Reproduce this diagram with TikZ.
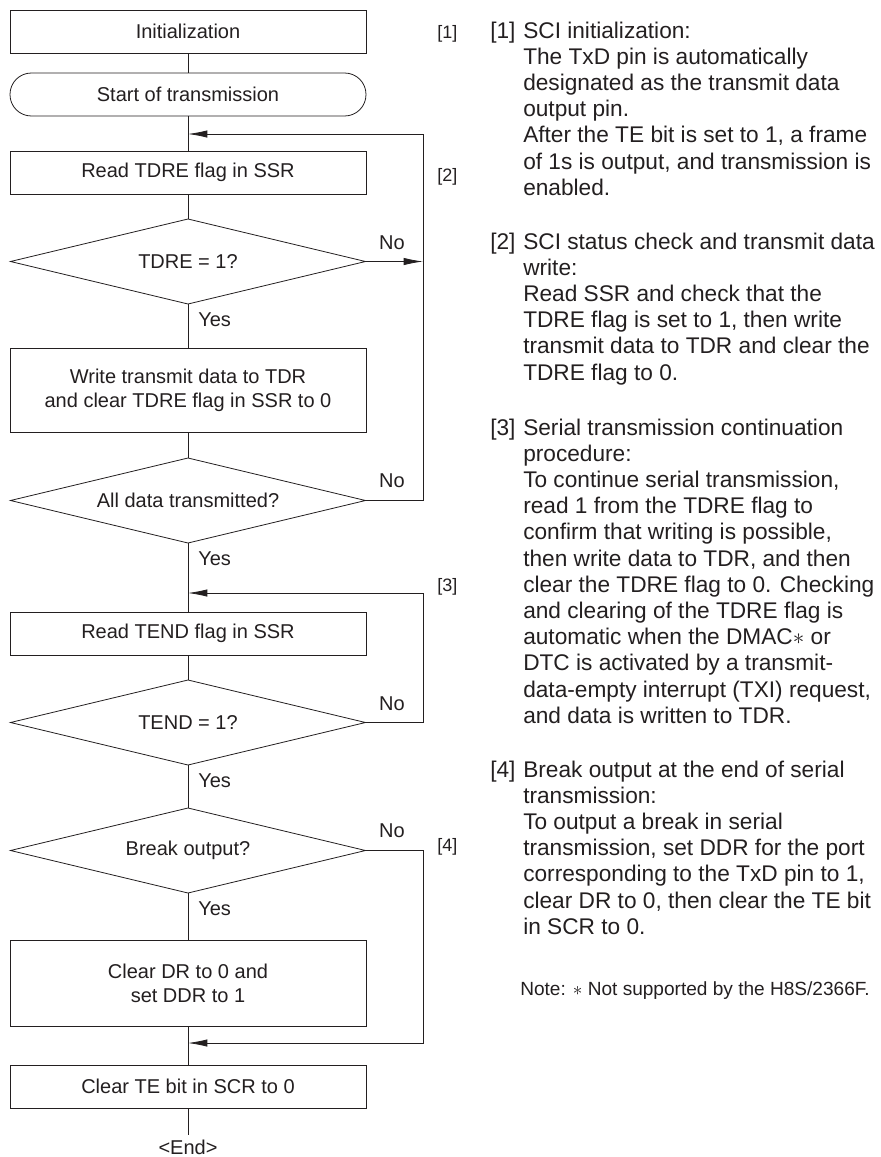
\documentclass[tikz,border=0pt]{standalone}
\usepackage{fontspec}
\setmainfont{Liberation Sans}
\usetikzlibrary{arrows.meta,positioning,shapes.geometric}
\definecolor{Ink}{RGB}{35,31,32}
\newcommand{\flowfont}{\fontsize{15pt}{18pt}\selectfont}
\newcommand{\descfont}{\fontsize{17pt}{19.65pt}\selectfont}
\newcommand{\tagfont}{\fontsize{13.5pt}{16pt}\selectfont}
\newcommand{\notefont}{\fontsize{14.3pt}{17pt}\selectfont}
\newcommand{\descitem}[2]{\makebox[24.75pt][l]{#1}\begin{tabular}[t]{@{}l@{}}#2\end{tabular}}
\tikzset{
  procbox/.style={draw=Ink,line width=0.6pt,fill=white,minimum width=267pt,minimum height=32.25pt,inner sep=2pt,outer sep=0pt,align=center,font=\flowfont,text=Ink},
  termbox/.style={procbox,rounded corners=16pt},
  testbox/.style={procbox,diamond,aspect=4.2,minimum width=266.25pt,minimum height=63.75pt,inner sep=0pt},
  flow/.style={draw=Ink,line width=0.6pt},
  back/.style={flow,-{Latex[length=14.5pt,width=5.5pt]}},
  yesno/.style={font=\flowfont,text=Ink,inner sep=0pt},
  tag/.style={font=\tagfont,text=Ink,inner sep=0pt,anchor=base west},
  desc/.style={font=\descfont,text=Ink,inner sep=0pt,anchor=base west}
}

\begin{document}
\begin{tikzpicture}[x=0.75pt,y=-0.75pt]
\useasboundingbox (0,0) rectangle (881,1157);
% flow chart
\node[procbox] (init) at (188,31.5) {Initialization};
\node[termbox,below=15pt of init] (start) {Start of transmission};
\node[procbox,below=26.25pt of start] (rdtdre) {Read TDRE flag in SSR};
\node[testbox,below=18.75pt of rdtdre] (tdre) {TDRE = 1?};
\node[procbox,minimum height=63pt,below=33pt of tdre] (wrtdr) {Write transmit data to TDR\\and clear TDRE flag in SSR to 0};
\node[testbox,below=19.5pt of wrtdr] (alldata) {All data transmitted?};
\node[procbox,below=51.75pt of alldata] (rdtend) {Read TEND flag in SSR};
\node[testbox,below=18.75pt of rdtend] (tend) {TEND = 1?};
\node[testbox,below=32.25pt of tend] (brk) {Break output?};
\node[procbox,minimum height=64.5pt,below=35.25pt of brk] (clrdr) {Clear DR to 0 and\\set DDR to 1};
\node[procbox,below=29.25pt of clrdr] (clrte) {Clear TE bit in SCR to 0};
\node[yesno,below=24pt of clrte] (fin) {<End>};
% loop points
\coordinate (rail) at (423,0);
\coordinate (j1) at (188,134);
\coordinate (j2) at (188,593);
\coordinate (j3) at (188,1043);
\coordinate (c1) at (tdre.east -| rail);
\coordinate (c2) at (alldata.east -| rail);
\coordinate (c3) at (tend.east -| rail);
\coordinate (c4) at (brk.east -| rail);
\draw[flow] (init) -- (start);
\draw[flow] (start) -- (rdtdre);
\draw[flow] (rdtdre) -- (tdre);
\draw[flow] (tdre) -- (wrtdr);
\draw[flow] (wrtdr) -- (alldata);
\draw[flow] (alldata) -- (rdtend);
\draw[flow] (rdtend) -- (tend);
\draw[flow] (tend) -- (brk);
\draw[flow] (brk) -- (clrdr);
\draw[flow] (clrdr) -- (clrte);
\draw[flow,shorten >=4pt] (clrte) -- (fin);
\draw[back] (tdre.east) -- (c1);
\draw[back] (alldata.east) -- (c2) |- (j1);
\draw[back] (tend.east) -- (c3) |- (j2);
\draw[back] (brk.east) -- (c4) |- (j3);
% yes / no
\node[yesno,above left=9pt and 13.5pt of c1] (no1) {No};
\node[yesno,above left=9.5pt and 13.5pt of c2] (no2) {No};
\node[yesno,above left=9pt and 13.5pt of c3] (no3) {No};
\node[yesno,above left=9.5pt and 13.5pt of c4] (no4) {No};
\node[yesno,below right=6.4pt and 7.5pt of tdre.south] (yes1) {Yes};
\node[yesno,below right=6.4pt and 7.5pt of alldata.south] (yes2) {Yes};
\node[yesno,below right=6.4pt and 7.5pt of tend.south] (yes3) {Yes};
\node[yesno,below right=6.4pt and 7.5pt of brk.south] (yes4) {Yes};
% step tags
\node[tag] (t1) at (437,38) {[1]};
\node[tag] (t2) at (437,181) {[2]};
\node[tag] (t3) at (437,591) {[3]};
\node[tag] (t4) at (437,851) {[4]};
% notes
\node[desc] (d1) at (490,38) {\descitem{[1]}{SCI initialization:\\The TxD pin is automatically\\designated as the transmit data\\output pin.\\After the TE bit is set to 1, a frame\\of 1s is output, and transmission is\\enabled.}};
\node[desc] (d2) at (490,249) {\descitem{[2]}{SCI status check and transmit data\\write:\\Read SSR and check that the\\TDRE flag is set to 1, then write\\transmit data to TDR and clear the\\TDRE flag to 0.}};
\node[desc] (d3) at (490,435) {\descitem{[3]}{Serial transmission continuation\\procedure:\\To continue serial transmission,\\read 1 from the TDRE flag to\\confirm that writing is possible,\\then write data to TDR, and then\\clear the TDRE flag to 0. Checking\\and clearing of the TDRE flag is\\automatic when the DMAC$\ast$ or\\DTC is activated by a transmit-\\data-empty interrupt (TXI) request,\\and data is written to TDR.}};
\node[desc] (d4) at (490,777) {\descitem{[4]}{Break output at the end of serial\\transmission:\\To output a break in serial\\transmission, set DDR for the port\\corresponding to the TxD pin to 1,\\clear DR to 0, then clear the TE bit\\in SCR to 0.}};
\node[desc,font=\notefont] (note) at (520,995) {Note: $\ast$ Not supported by the H8S/2366F.};
\end{tikzpicture}
\end{document}
